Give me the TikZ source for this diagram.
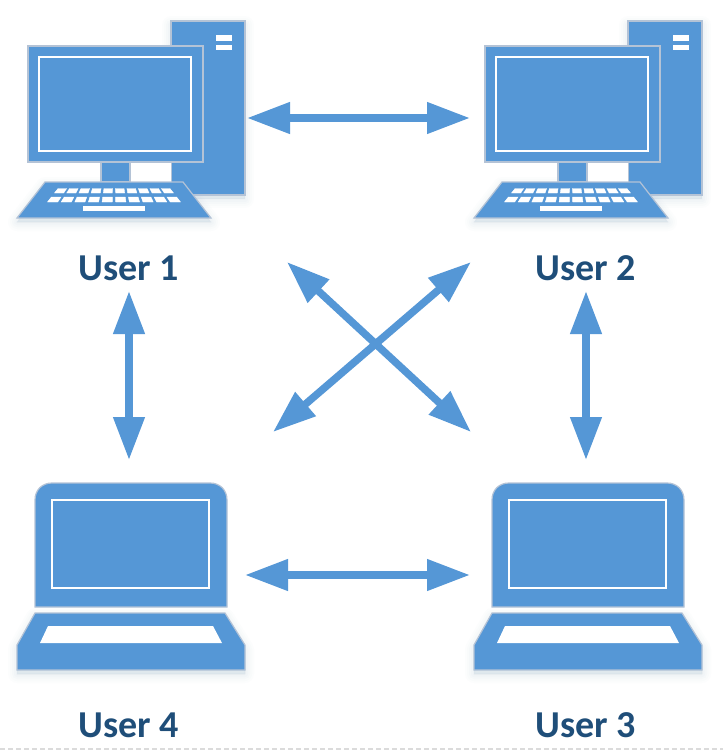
\documentclass[tikz,border=0pt]{standalone}
\usepackage{fontspec}
\setmainfont{Carlito}
\usetikzlibrary{arrows.meta}
\definecolor{iconblue}{HTML}{5597D6}
\definecolor{iconedge}{HTML}{B4C3D6}
\definecolor{labelblue}{HTML}{1F4E79}
\definecolor{softshadow}{HTML}{8FA9C8}
\newcommand{\softcopy}[1]{%
  \foreach \w/\o in {18/0.02,14/0.025,10/0.03,6/0.035,2/0.04}{
    \path[draw=softshadow,fill=softshadow,opacity=\o,line width=\w pt,line join=round,shift={(0,4)}] #1;
  }%
}
\newcommand{\fankey}[4]{% u0 u1 ytop ybottom
  \pgfmathsetmacro{\hta}{57+(#3-188)*0.8}
  \pgfmathsetmacro{\htb}{57+(#4-188)*0.8}
  \fill[white,draw=white,line width=0.4pt] ({114+#1*\hta},#3) -- ({114+#2*\hta},#3) -- ({114+#2*\htb},#4) -- ({114+#1*\htb},#4) -- cycle;
}
\tikzset{
  x=1pt,y=-1pt,
  body/.style={fill=iconblue,draw=iconedge,line width=1.2pt},
  screen/.style={fill=iconblue,draw=white,line width=1.8pt},
  userlabel/.style={font=\fontsize{38}{38}\selectfont\bfseries,text=labelblue,inner sep=0pt},
  link/.style={draw=iconblue,line width=7.5pt,{Triangle[length=43pt,width=30pt]}-{Triangle[length=43pt,width=30pt]}},
  desktop/.pic={
    \softcopy{(171,21) rectangle (245,195)}
    \softcopy{(17,218) -- (45,182) -- (183,182) -- (211,218) -- cycle}
    \path[body] (171,21) rectangle (245,195);
    \fill[white] (216,35) rectangle (232,41);
    \fill[white] (216,45) rectangle (232,50);
    \fill[white] (130,162) rectangle (171,182);
    \path[body] (101,162) rectangle (130,182);
    \path[body] (28,46) rectangle (203,162);
    \path[screen] (39,57) rectangle (191,151);
    \path[body] (17,218) -- (45,182) -- (183,182) -- (211,218) -- cycle;
    \foreach \i in {0,...,9}{
      \pgfmathsetmacro{\ua}{-1+\i*0.2+0.025}
      \pgfmathsetmacro{\ub}{\ua+0.15}
      \fankey{\ua}{\ub}{188.5}{193}
      \fankey{\ua}{\ub}{197}{202}
    }
    \fill[white] (83,206) rectangle (145,211);
  },
  laptop/.pic={
    \softcopy{(17,670) -- (17,645) -- (35,613) -- (225,613) -- (245,645) -- (245,670) -- cycle}
    \path[body] (35,607) -- (35,500) .. controls (35,490) and (42,483) .. (52,483) -- (210,483) .. controls (220,483) and (227,490) .. (227,500) -- (227,607) -- cycle;
    \path[screen] (52,500) rectangle (209,588);
    \path[body] (17,670) -- (17,645) -- (35,613) -- (225,613) -- (245,645) -- (245,670) -- cycle;
    \fill[white] (48,626) -- (213,626) -- (222,643) -- (40,643) -- cycle;
  }
}
\begin{document}
\begin{tikzpicture}
\useasboundingbox (0,0) rectangle (723,750);
\fill[white] (0,0) rectangle (723,750);
\draw[draw=black!14,line width=2pt,dash pattern=on 5pt off 3pt] (0,748.5) -- (723,748.5);

\pic at (0,0) {desktop};
\pic at (457,0) {desktop};
\pic at (0,0) {laptop};
\pic at (457,0) {laptop};

\node[userlabel] (user1) at (129,268) {User 1};
\node[userlabel] (user2) at (586,268) {User 2};
\node[userlabel] (user4) at (129,725) {User 4};
\node[userlabel] (user3) at (586,725) {User 3};

\coordinate (topL) at (247,118);
\coordinate (topR) at (470,118);
\coordinate (botL) at (245,575);
\coordinate (botR) at (470,575);
\coordinate (leftT) at (129,291);
\coordinate (leftB) at (129,460);
\coordinate (rightT) at (586,291);
\coordinate (rightB) at (586,460);
\coordinate (diagTL) at (287,262);
\coordinate (diagBR) at (471,432);
\coordinate (diagTR) at (471,262);
\coordinate (diagBL) at (273,432);

\draw[link] (topL) -- (topR);
\draw[link] (botL) -- (botR);
\draw[link] (leftT) -- (leftB);
\draw[link] (rightT) -- (rightB);
\draw[link] (diagTL) -- (diagBR);
\draw[link] (diagTR) -- (diagBL);
\end{tikzpicture}
\end{document}
